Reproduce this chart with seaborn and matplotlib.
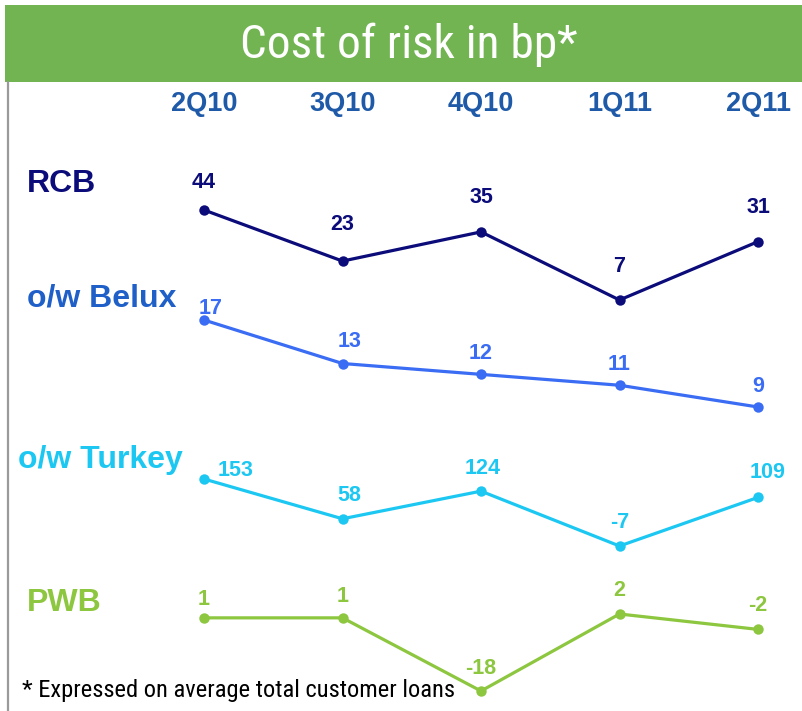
import matplotlib
matplotlib.use("Agg")
import matplotlib.pyplot as plt
import matplotlib.transforms as mtransforms
from matplotlib.patches import Rectangle
from matplotlib.lines import Line2D
from matplotlib import font_manager
import seaborn as sns
import pandas as pd

# ---------------- data ----------------
quarters = ["2Q10", "3Q10", "4Q10", "1Q11", "2Q11"]
series_names = ["RCB", "o/w Belux", "o/w Turkey", "PWB"]
rcb = [44, 23, 35, 7, 31]
belux = [17, 13, 12, 11, 9]
turkey = [153, 58, 124, -7, 109]
pwb = [1, 1, -18, 2, -2]
title = "Cost of risk in bp*"
footnote = "* Expressed on average total customer loans"

# ---------------- style ----------------
sns.set_theme(style="white")
names = {f.name for f in font_manager.fontManager.ttflist}
base = "Liberation Sans" if "Liberation Sans" in names else "DejaVu Sans"
narrow = base
for cand in ["Liberation Sans Narrow", "Arial Narrow", "Roboto Condensed", "Open Sans Condensed",
             "Noto Sans Condensed", "DejaVu Sans Condensed", "Noto Sans Display Condensed"]:
    if cand in names:
        narrow = cand
        break
plt.rcParams["font.family"] = [base, "DejaVu Sans"]

W, H = 802, 711
fig = plt.figure(figsize=(W / 100, H / 100), dpi=100)
fig.patch.set_facecolor("white")

colors = ["#0B0B7A", "#3A6CF4", "#1CC8F2", "#8DC63F"]
label_colors = ["#0B0B7A", "#1F5FC8", "#1CC8F2", "#8DC63F"]
header_color = "#1F5AA8"

bands = [(210, 300), (320, 407), (479, 546), (614, 691)]
x_left_px, x_right_px = 204, 758
row_label_pos = [(27, 184), (27, 298), (18, 460), (27, 603)]
offsets = [
    [(0, -28, "center"), (0, -37, "center"), (0, -34, "center"), (0, -33, "center"), (0, -34, "center")],
    [(7, -11, "center"), (7, -22, "center"), (0, -21, "center"), (0, -21, "center"), (0, -21, "center")],
    [(14, -9, "left"), (7, -23, "center"), (2, -23, "center"), (0, -24, "center"), (10, -25, "center")],
    [(0, -18, "center"), (0, -21, "center"), (0, -23, "center"), (0, -24, "center"), (0, -24, "center")],
]

all_series = [rcb, belux, turkey, pwb]
px2pt = 72 / 100

axes = []
for k, vals in enumerate(all_series):
    top, bot = bands[k]
    ax = fig.add_axes([x_left_px / W, (H - bot) / H, (x_right_px - x_left_px) / W, (bot - top) / H])
    df = pd.DataFrame({"pos": list(range(len(quarters))), "value": vals})
    sns.lineplot(data=df, x="pos", y="value", ax=ax, color=colors[k], linewidth=2.3,
                 marker="o", markersize=7.5, markeredgewidth=0, clip_on=False)
    ax.set_xlim(0, len(quarters) - 1)
    ax.set_ylim(min(vals), max(vals))
    ax.set_axis_off()
    for i, v in enumerate(vals):
        dx, dy, ha = offsets[k][i]
        ax.annotate(f"{v}", (i, v), xytext=(dx * px2pt, -dy * px2pt), textcoords="offset points",
                    ha=ha, va="center", fontsize=15.5, fontweight="bold", color=colors[k],
                    annotation_clip=False)
    fig.text(row_label_pos[k][0] / W, 1 - row_label_pos[k][1] / H, series_names[k],
             ha="left", va="center", fontsize=23, fontweight="bold", color=label_colors[k])
    axes.append(ax)

trans = mtransforms.blended_transform_factory(axes[0].transData, fig.transFigure)
for i, q in enumerate(quarters):
    axes[0].text(i, 1 - 104 / H, q, transform=trans, ha="center", va="center",
                 fontsize=19.5, fontweight="bold", color=header_color)

fig.add_artist(Rectangle((5 / W, 1 - 82 / H), 1 - 5 / W, 77 / H, transform=fig.transFigure,
                         facecolor="#72B352", edgecolor="none"))
t_title = fig.text(409 / W, 1 - 45 / H, title, ha="center", va="center", fontsize=36,
                   color="white", family=[narrow, "DejaVu Sans"])

fig.add_artist(Line2D([8 / W, 8 / W], [0, 1 - 82 / H], transform=fig.transFigure,
                      color="#9A9A9A", linewidth=1.6))

t_foot = fig.text(22 / W, 1 - 690 / H, footnote, ha="left", va="center", fontsize=18,
                  color="black", family=[narrow, "DejaVu Sans"])

# fit the narrow-font texts to the widths seen in the reference
fig.canvas.draw()
renderer = fig.canvas.get_renderer()
for t, target_w in [(t_title, 338), (t_foot, 433)]:
    w = t.get_window_extent(renderer).width
    t.set_fontsize(t.get_fontsize() * target_w / w)

fig.savefig("out.png", dpi=100)
